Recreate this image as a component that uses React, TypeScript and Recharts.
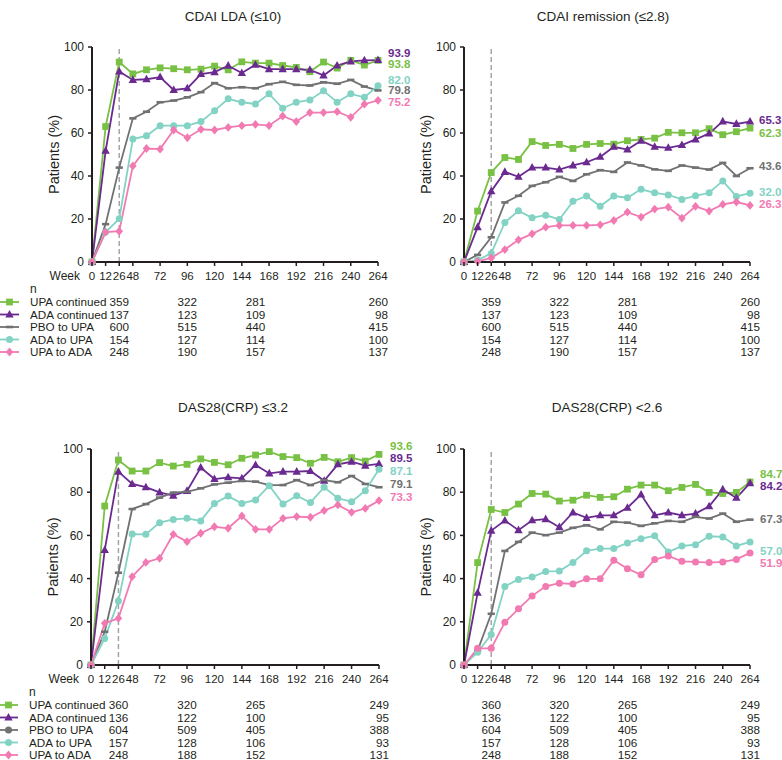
import React from "react";
import { LineChart, Line, XAxis, YAxis, ReferenceLine } from "recharts";

// visit weeks (x is evenly spaced by visit, not by week)
const weeks = [0, 12, 26, 48, 60, 72, 84, 96, 108, 120, 132, 144, 156, 168, 180, 192, 204, 216, 228, 240, 252, 264];
const weekTicks = [0, 12, 26, 48, 72, 96, 120, 144, 168, 192, 216, 240, 264];
const nWeeks = [26, 96, 156, 264];
const seriesNames = ["UPA continued", "ADA continued", "PBO to UPA", "ADA to UPA", "UPA to ADA"];

// CDAI LDA (≤10)
const ldaUpaCont = [0, 63, 93, 87.5, 89.4, 90.3, 89.9, 89.4, 89.7, 91.1, 89.4, 93.1, 92.5, 92.5, 91.4, 90.5, 88.5, 93, 90.2, 93.8, 91.6, 93.8];
const ldaAdaCont = [0, 51.7, 88.6, 84.7, 85, 86, 80, 80.8, 87.4, 88.3, 91.3, 87.9, 91.7, 89.7, 89.7, 89.7, 89.4, 86.8, 91.4, 93.3, 93.8, 93.9];
const ldaPboUpa = [0, 17.6, 43.9, 66.8, 69.9, 74.3, 75.1, 76.6, 79, 83.2, 80.8, 81.3, 80.8, 82.7, 83.8, 82.4, 82.1, 83.6, 82.9, 84.7, 81.6, 79.8];
const ldaAdaUpa = [0, 13.9, 20.1, 57.2, 58.7, 63.4, 63.4, 63.4, 65.3, 70.4, 75.9, 74.3, 73.5, 78.2, 71.5, 74.3, 75.4, 79.6, 74.3, 78.2, 76.6, 82.0];
const ldaUpaAda = [0, 13.9, 14.3, 44.7, 52.8, 52.5, 61.4, 57.8, 61.7, 61.4, 62.6, 63.4, 64, 63.4, 67.9, 65.3, 69.5, 69.5, 69.9, 67.3, 73.4, 75.2];
const ldaEnds = ["93.8", "93.9", "79.8", "82.0", "75.2"];

// CDAI remission (≤2.8)
const remUpaCont = [0, 23.7, 41.6, 48.6, 47.7, 56, 54.2, 54.7, 52.8, 54.7, 55.1, 54.8, 56.4, 57, 57.6, 60.3, 60.1, 60.1, 62, 59.2, 60.6, 62.3];
const remAdaCont = [0, 16.2, 32.9, 41.9, 39.6, 43.9, 43.9, 43, 44.9, 46.4, 48.9, 53.6, 52.3, 56.4, 53.6, 53.1, 54.4, 57, 59.8, 65.4, 64.2, 65.3];
const remPboUpa = [0, 3.3, 11.5, 27.7, 30.8, 35.4, 37.1, 39.6, 37.7, 40.8, 42.7, 41.9, 46.3, 44.9, 43.1, 42.4, 44.9, 43.9, 43, 46.1, 40, 43.6];
const remAdaUpa = [0, 0.9, 4, 18.4, 23.8, 20.6, 21.8, 19.8, 28.2, 30.7, 25.9, 30.7, 29.9, 33.8, 32.2, 31.2, 29.1, 30.8, 32.2, 37.7, 30.5, 32.0];
const remUpaAda = [0, 0.3, 1.9, 5.8, 10.3, 13.1, 16.2, 17, 17, 17, 17.3, 19.3, 23.2, 20.9, 24.6, 25.5, 20.4, 25.9, 23.7, 26.8, 27.9, 26.3];
const remEnds = ["62.3", "65.3", "43.6", "32.0", "26.3"];

// DAS28(CRP) ≤3.2
const d32UpaCont = [0, 73.6, 94.9, 89.8, 89.8, 93.7, 92.1, 92.9, 95.4, 93.8, 92.7, 95.7, 97.2, 98.8, 96.5, 96, 93.4, 96.1, 94.1, 96, 94.4, 97.5];
const d32AdaCont = [0, 53.2, 89.5, 83.8, 82.3, 79.9, 78.4, 80.6, 91.4, 86.1, 86.9, 86.4, 92.6, 88.7, 89.5, 89.5, 89.8, 85.3, 92.9, 94.1, 92.3, 93.1];
const d32PboUpa = [0, 15.4, 42.7, 72.2, 74.5, 77.5, 79.8, 80.2, 81.8, 83.6, 84.4, 85.2, 84.9, 83.3, 83.3, 85.6, 83.3, 85.6, 84.6, 87.5, 83.8, 82.3];
const d32AdaUpa = [0, 12.3, 29.6, 60.6, 60.5, 65.9, 67.4, 67.9, 66.7, 74.8, 78.2, 74.8, 76.4, 83, 74.5, 78.4, 75.2, 82.3, 77.2, 75.6, 80.7, 90.6];
const d32UpaAda = [0, 19.3, 21.6, 40.9, 47.5, 49.4, 60.5, 57.1, 61, 64, 63.3, 69, 62.8, 62.8, 67.9, 68.7, 68.4, 71.5, 74.1, 70.7, 72.5, 76.1];
const d32Ends = ["93.6", "89.5", "79.1", "87.1", "73.3"];

// DAS28(CRP) <2.6
const d26UpaCont = [0, 47.4, 72, 70.6, 74.5, 79.4, 79.1, 75.9, 76.3, 78.6, 77.6, 77.9, 81.4, 83.3, 83.3, 80.7, 82.2, 83.6, 79.9, 79.4, 79.9, 84.7];
const d26AdaCont = [0, 33.4, 62.2, 66.9, 62.4, 67, 67.5, 63.8, 70.6, 68.1, 69.3, 69.3, 72.8, 78.9, 69.3, 70.6, 69.3, 70.1, 73.5, 81.3, 77.4, 84.2];
const d26PboUpa = [0, 6.7, 23.7, 52.8, 57, 61.3, 60.1, 61.3, 63.5, 64.7, 62.8, 66.3, 65.9, 64.4, 65.6, 66.7, 66.3, 68.6, 67.8, 70.1, 66.3, 67.3];
const d26AdaUpa = [0, 5.9, 14.1, 36.4, 39.6, 40.7, 43.3, 43.5, 47.4, 52.9, 53.9, 53.9, 56.5, 58.5, 59.8, 52.3, 55.1, 55.7, 59.6, 59.3, 55.1, 57.0];
const d26UpaAda = [0, 7.7, 7.7, 19.8, 26, 32, 36.4, 37.9, 37.5, 39.9, 39.9, 48.5, 44.6, 41.8, 48.8, 50.5, 48, 47.7, 47.4, 47.7, 48.9, 51.9];
const d26Ends = ["84.7", "84.2", "67.3", "57.0", "51.9"];

// patients at risk (n) at weeks 26 / 96 / 156 / 264
const nTopUpaCont = [359, 322, 281, 260];
const nTopAdaCont = [137, 123, 109, 98];
const nTopPboUpa = [600, 515, 440, 415];
const nTopAdaUpa = [154, 127, 114, 100];
const nTopUpaAda = [248, 190, 157, 137];
const nBotUpaCont = [360, 320, 265, 249];
const nBotAdaCont = [136, 122, 100, 95];
const nBotPboUpa = [604, 509, 405, 388];
const nBotAdaUpa = [157, 128, 106, 93];
const nBotUpaAda = [248, 188, 152, 131];

const INK = "#231f20";
const colors = ["#78c144", "#6a2a90", "#707173", "#82d3c4", "#f27ab2"];

type Shape = "square" | "triangle" | "dash" | "circle" | "diamond";

function marker(shape: Shape, cx: number, cy: number, color: string, key?: any) {
  switch (shape) {
    case "square":
      return <rect key={key} x={cx - 3.4} y={cy - 3.4} width={6.8} height={6.8} fill={color} />;
    case "triangle":
      return <polygon key={key} points={`${cx},${cy - 4.6} ${cx + 4.2},${cy + 3} ${cx - 4.2},${cy + 3}`} fill={color} />;
    case "dash":
      return <rect key={key} x={cx - 3.6} y={cy - 1.3} width={7.2} height={2.6} fill={color} />;
    case "circle":
      return <circle key={key} cx={cx} cy={cy} r={3.5} fill={color} />;
    default:
      return <polygon key={key} points={`${cx},${cy - 4.4} ${cx + 3.8},${cy} ${cx},${cy + 4.4} ${cx - 3.8},${cy}`} fill={color} />;
  }
}

interface PanelCfg {
  title: string;
  series: number[][];
  ends: string[];
  n: number[][];
  shapes: Shape[];
  legendShapes: Shape[];
  legend: boolean;
  left: number;
  top: number;
  width: number;
  margin: { top: number; right: number; bottom: number; left: number };
  endDx: number;
  endDy: number[];
  titleX: number;
  titleY: number;
}

const shapesTop: Shape[] = ["square", "triangle", "dash", "circle", "diamond"];

const panels: PanelCfg[] = [
  {
    title: "CDAI LDA (≤10)",
    series: [ldaUpaCont, ldaAdaCont, ldaPboUpa, ldaAdaUpa, ldaUpaAda],
    ends: ldaEnds,
    n: [nTopUpaCont, nTopAdaCont, nTopPboUpa, nTopAdaUpa, nTopUpaAda],
    shapes: shapesTop,
    legendShapes: shapesTop,
    legend: true,
    left: 0, top: 0, width: 440,
    margin: { top: 47, right: 62, bottom: 88, left: 42 },
    endDx: 10, endDy: [3.5, -7.5, 0, -6, 2],
    titleX: 233, titleY: 17,
  },
  {
    title: "CDAI remission (≤2.8)",
    series: [remUpaCont, remAdaCont, remPboUpa, remAdaUpa, remUpaAda],
    ends: remEnds,
    n: [nTopUpaCont, nTopAdaCont, nTopPboUpa, nTopAdaUpa, nTopUpaAda],
    shapes: shapesTop,
    legendShapes: shapesTop,
    legend: false,
    left: 382, top: 0, width: 400,
    margin: { top: 47, right: 32, bottom: 88, left: 32 },
    endDx: 9, endDy: [5, -1.5, -2, -1, -1],
    titleX: 603, titleY: 17,
  },
  {
    title: "DAS28(CRP) ≤3.2",
    series: [d32UpaCont, d32AdaCont, d32PboUpa, d32AdaUpa, d32UpaAda],
    ends: d32Ends,
    n: [nBotUpaCont, nBotAdaCont, nBotPboUpa, nBotAdaUpa, nBotUpaAda],
    shapes: shapesTop,
    legendShapes: ["square", "triangle", "circle", "circle", "diamond"],
    legend: true,
    left: 0, top: 380, width: 440,
    margin: { top: 69, right: 61, bottom: 65, left: 41 },
    endDx: 11, endDy: [-8.5, -5.5, -3, 1.5, -3.5],
    titleX: 233, titleY: 408,
  },
  {
    title: "DAS28(CRP) <2.6",
    series: [d26UpaCont, d26AdaCont, d26PboUpa, d26AdaUpa, d26UpaAda],
    ends: d26Ends,
    n: [nBotUpaCont, nBotAdaCont, nBotPboUpa, nBotAdaUpa, nBotUpaAda],
    shapes: ["square", "triangle", "dash", "circle", "circle"],
    legendShapes: ["square", "triangle", "circle", "circle", "diamond"],
    legend: false,
    left: 382, top: 380, width: 400,
    margin: { top: 69, right: 32, bottom: 65, left: 32 },
    endDx: 10, endDy: [-8, 3, -1, 9, 10],
    titleX: 607, titleY: 408,
  },
];

const labelIdx = weekTicks.map((w) => weeks.indexOf(w));
const nIdx = nWeeks.map((w) => weeks.indexOf(w));
const allTicks = Array.from(new Set([...labelIdx, ...nIdx])).sort((a, b) => a - b);
const lastIdx = weeks.length - 1;

function YLabel(props: any) {
  const { viewBox } = props;
  const x = viewBox.x + viewBox.width - 38;
  const y = viewBox.y + viewBox.height / 2;
  return (
    <text x={x} y={y} transform={`rotate(-90, ${x}, ${y})`} textAnchor="middle" dy="0.35em" fontSize={14.5} fill={INK}>
      Patients (%)
    </text>
  );
}

function Panel({ cfg }: { cfg: PanelCfg }) {
  const data = weeks.map((w, i) => {
    const row: Record<string, number> = { idx: i, week: w };
    cfg.series.forEach((s, k) => (row["s" + k] = s[i]));
    return row;
  });

  // tick mark + week label, and the "n" table under the matching visits
  const renderTick = (p: any) => {
    const { x, y, payload } = p;
    const idx = payload.value;
    const base = y; // tickSize/tickMargin are 0, so y is the axis line
    const out: React.ReactNode[] = [];
    if (labelIdx.includes(idx)) {
      out.push(
        <line key="tl" x1={x} x2={x} y1={base} y2={base + 4} stroke={INK} strokeWidth={1.5} />,
        <text key="t" x={x} y={base + 14} dy="0.35em" textAnchor="middle" fontSize={11.5} fill={INK}>
          {weeks[idx]}
        </text>
      );
    }
    if (cfg.legend && idx === 0) {
      out.push(
        <text key="wk" x={x - 12} y={base + 14} dy="0.35em" textAnchor="end" fontSize={12} fill={INK}>Week</text>,
        <text key="n" x={x - 62} y={base + 26.5} dy="0.35em" fontSize={12} fill={INK}>n</text>
      );
      seriesNames.forEach((name, k) => {
        const ry = base + 40 + k * 12.5;
        out.push(
          <line key={"l" + k} x1={x - 92} x2={x - 73} y1={ry} y2={ry} stroke={colors[k]} strokeWidth={1.8} />,
          marker(cfg.legendShapes[k], x - 82.5, ry, colors[k], "m" + k),
          <text key={"nm" + k} x={x - 62} y={ry} dy="0.35em" fontSize={11.7} fill={INK}>{name}</text>
        );
      });
    }
    const col = nIdx.indexOf(idx);
    if (col >= 0) {
      const last = col === nIdx.length - 1;
      cfg.n.forEach((arr, k) => {
        out.push(
          <text key={"v" + k} x={last ? x + 10 : x} y={base + 40 + k * 12.5} dy="0.35em"
            textAnchor={last ? "end" : "middle"} fontSize={11.7} fill={INK}>
            {arr[col]}
          </text>
        );
      });
    }
    return <g>{out}</g>;
  };

  return (
    <div style={{ position: "absolute", left: cfg.left, top: cfg.top }}>
      <LineChart width={cfg.width} height={380} data={data} margin={cfg.margin}>
        <XAxis
          dataKey="idx"
          type="number"
          domain={[0, lastIdx]}
          ticks={allTicks}
          interval={0}
          tick={renderTick}
          tickSize={0}
          tickMargin={0}
          tickLine={false}
          height={30}
          axisLine={{ stroke: INK, strokeWidth: 2 }}
        />
        <YAxis
          domain={[0, 100]}
          ticks={[0, 20, 40, 60, 80, 100]}
          width={50}
          tickSize={4}
          tickMargin={4}
          tick={{ fontSize: 12, fill: INK }}
          axisLine={{ stroke: INK, strokeWidth: 2 }}
          tickLine={{ stroke: INK, strokeWidth: 1.5 }}
          label={<YLabel />}
        />
        <ReferenceLine x={weeks.indexOf(26)} stroke="#a4a5a7" strokeWidth={1.5} strokeDasharray="5 3" />
        {cfg.series.map((_, k) => (
          <Line
            key={k}
            dataKey={"s" + k}
            stroke={colors[k]}
            strokeWidth={1.8}
            isAnimationActive={false}
            dot={(d: any) => marker(cfg.shapes[k], d.cx, d.cy, colors[k], "d" + d.index)}
            activeDot={false}
            label={(lp: any) =>
              lp.index === lastIdx ? (
                <text key={"e" + k} x={lp.x + cfg.endDx} y={lp.y + cfg.endDy[k]} dy="0.35em" fontSize={11.5} fontWeight="bold" fill={colors[k]}>
                  {cfg.ends[k]}
                </text>
              ) : (
                <g key={"e" + k + "_" + lp.index} />
              )
            }
          />
        ))}
      </LineChart>
    </div>
  );
}

export default function App() {
  return (
    <div
      style={{
        position: "absolute",
        left: 0,
        top: 0,
        width: 782,
        height: 760,
        background: "#fff",
        overflow: "hidden",
        fontFamily: "'Liberation Sans', Arial, sans-serif",
        color: INK,
      }}
    >
      {panels.map((p, i) => (
        <Panel key={i} cfg={p} />
      ))}
      {panels.map((p, i) => (
        <div
          key={"t" + i}
          style={{
            position: "absolute",
            left: p.titleX - 150,
            top: p.titleY - 8,
            width: 300,
            textAlign: "center",
            fontSize: 13.5,
            lineHeight: "16px",
          }}
        >
          {p.title}
        </div>
      ))}
    </div>
  );
}
